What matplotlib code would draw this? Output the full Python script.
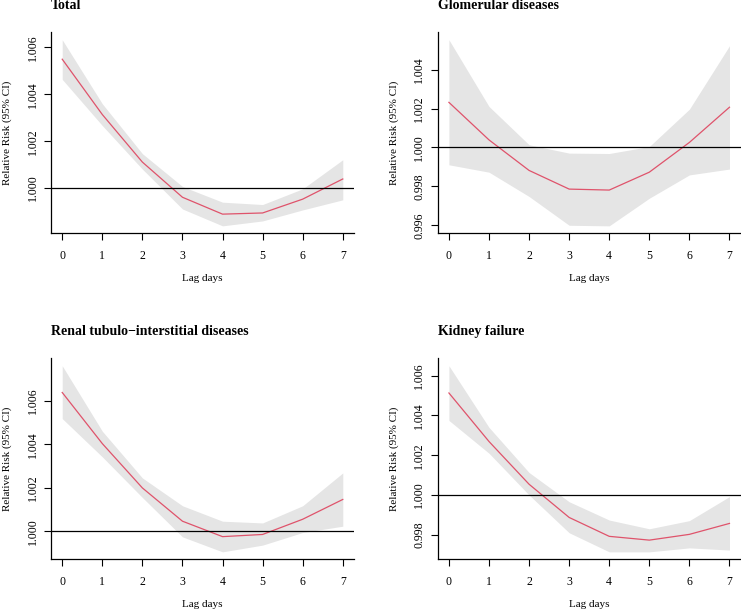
import numpy as np
import matplotlib
matplotlib.use("Agg")
import matplotlib.pyplot as plt
from matplotlib.ticker import MultipleLocator, FormatStrFormatter

plt.rcParams["font.family"] = ["Liberation Serif", "DejaVu Serif"]

lags = np.arange(8)

titles = ["Total", "Glomerular diseases",
          "Renal tubulo\u2212interstitial diseases", "Kidney failure"]

# relative risk estimates and 95% CI
total_rr = [1.00550, 1.00314, 1.00111, 0.99961, 0.99889, 0.99894, 0.99953, 1.00039]
total_hi = [1.00633, 1.00360, 1.00147, 1.00007, 0.99940, 0.99930, 0.99997, 1.00121]
total_lo = [1.00464, 1.00267, 1.00081, 0.99911, 0.99839, 0.99860, 0.99907, 0.99950]

glom_rr = [1.00232, 1.00039, 0.99882, 0.99786, 0.99781, 0.99873, 1.00026, 1.00207]
glom_hi = [1.00554, 1.00211, 1.00014, 0.99971, 0.99969, 1.00005, 1.00197, 1.00523]
glom_lo = [0.99911, 0.99873, 0.99748, 0.99600, 0.99597, 0.99739, 0.99859, 0.99889]

renal_rr = [1.00638, 1.00403, 1.00199, 1.00046, 0.99975, 0.99985, 1.00055, 1.00146]
renal_hi = [1.00761, 1.00460, 1.00245, 1.00117, 1.00046, 1.00038, 1.00117, 1.00268]
renal_lo = [1.00518, 1.00342, 1.00155, 0.99974, 0.99905, 0.99936, 0.99994, 1.00023]

kidney_rr = [1.00513, 1.00269, 1.00054, 0.99887, 0.99792, 0.99773, 0.99802, 0.99857]
kidney_hi = [1.00650, 1.00340, 1.00113, 0.99966, 0.99874, 0.99830, 0.99871, 0.99992]
kidney_lo = [1.00375, 1.00210, 1.00000, 0.99810, 0.99714, 0.99714, 0.99734, 0.99723]

panels = [
    (total_rr, total_lo, total_hi),
    (glom_rr, glom_lo, glom_hi),
    (renal_rr, renal_lo, renal_hi),
    (kidney_rr, kidney_lo, kidney_hi),
]

W, H = 741, 611
fig = plt.figure(figsize=(W / 100, H / 100), dpi=100)

# plot regions in pixels: (left, top, width, height)
boxes = [(51, 32.3, 303, 201), (437.7, 32.3, 303, 201),
         (51, 358.3, 303, 201), (437.7, 358.3, 303, 201)]

for (rr, lo, hi), title, (l, t, w, h) in zip(panels, titles, boxes):
    ax = fig.add_axes([l / W, (H - t - h) / H, w / W, h / H])
    lo = np.array(lo)
    hi = np.array(hi)
    ax.fill_between(lags, lo, hi, color="#e5e5e5", lw=0)
    ax.plot(lags, rr, color="#DF536B", lw=0.9)
    ax.axhline(1.0, color="black", lw=0.9)

    # R-style 4% axis extension
    ymin, ymax = lo.min(), hi.max()
    pad = 0.04 * (ymax - ymin)
    ax.set_ylim(ymin - pad, ymax + pad)
    ax.set_xlim(-0.28, 7.28)

    ax.set_xticks(lags)
    ax.yaxis.set_major_locator(MultipleLocator(0.002))
    ax.yaxis.set_major_formatter(FormatStrFormatter("%.3f"))
    for lab in ax.get_yticklabels():
        lab.set_rotation(90)
        lab.set_va("center")
    ax.tick_params(labelsize=8.5, length=5, width=0.8, direction="out")
    ax.tick_params(axis="x", pad=7)
    ax.tick_params(axis="y", pad=4)
    for s in ("top", "right"):
        ax.spines[s].set_visible(False)
    for s in ("left", "bottom"):
        ax.spines[s].set_linewidth(0.9)

    ax.set_xlabel("Lag days", fontsize=8, labelpad=9)
    ax.set_ylabel("Relative Risk (95% CI)", fontsize=8, labelpad=10.5)
    ax.text(0.0, 1 + 23 / h, title, transform=ax.transAxes, ha="left",
            va="baseline", fontsize=10, fontweight="bold")

fig.savefig("out.png", dpi=100)
